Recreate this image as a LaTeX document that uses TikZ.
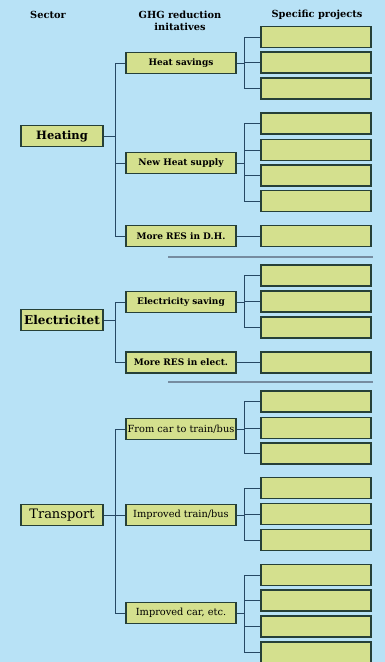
\documentclass[tikz,border=0pt]{standalone}
\usepackage{fontspec}
\setmainfont{DejaVu Serif}

\definecolor{bgblue}{RGB}{184,226,246}
\definecolor{boxfill}{RGB}{212,224,142}
\definecolor{boxline}{RGB}{38,64,56}
\definecolor{linkcol}{RGB}{38,72,100}
\definecolor{sepcol}{RGB}{118,140,160}

\begin{document}
\begin{tikzpicture}[x=1pt, y=-1pt,
  box/.style={draw=boxline, fill=boxfill, line width=1.2pt, minimum height=21pt, inner sep=0pt},
  sectorbox/.style={box, minimum width=82pt, font=\bfseries\fontsize{11.5}{13}\selectfont},
  initbox/.style={box, minimum width=110pt, font=\bfseries\fontsize{9}{10}\selectfont},
  projbox/.style={box, minimum width=110pt},
  link/.style={draw=linkcol, line width=0.9pt},
  head/.style={font=\bfseries\fontsize{9.8}{11.5}\selectfont, align=center}]

% Background
\fill[bgblue] (0,0) rectangle (385,662);
\useasboundingbox (0,0) rectangle (385,662);
\clip (0,0) rectangle (385,662);

% Headings
\node[head] (hsec) at (48,15) {Sector};
\node[head] (hghg) at (180,21) {GHG reduction\\initatives};
\node[head] (hspec) at (317,15) {Specific projects};

% Sectors
\node[sectorbox] (heat) at (62,136) {Heating};
\node[sectorbox, font=\bfseries\fontsize{12}{13}\selectfont] (elec) at (62,320) {Electricitet};
\node[sectorbox, font=\fontsize{13}{15}\selectfont] (trans) at (62,515) {Transport};

% Initiatives
\node[initbox] (hsav) at (181,63) {Heat savings};
\node[initbox] (hnew) at (181,163) {New Heat supply};
\node[initbox] (hres) at (181,236) {More RES in D.H.};
\node[initbox] (esav) at (181,302) {Electricity saving};
\node[initbox] (eres) at (181,362.5) {More RES in elect.};
\node[initbox, font=\fontsize{9.8}{11}\selectfont] (tcar) at (181,429) {From car to train/bus};
\node[initbox, font=\fontsize{9.8}{11}\selectfont] (ttrain) at (181,515) {Improved train/bus};
\node[initbox, font=\fontsize{9.8}{11}\selectfont] (tveh) at (181,613) {Improved car, etc.};

% Specific projects
\foreach \y [count=\i] in {37,62.5,88.5,123.5,150,175.5,201,236,275.5,301.5,327.5,362.5,
                           401.5,428,453.5,488,514,540,575,600.5,626.5,652.5}
  \node[projbox] (p\i) at (316,\y) {};

% Sector -> initiatives
\draw[link] (heat.east) -- ++(12,0) coordinate (heat-t);
\draw[link] (elec.east) -- ++(12,0) coordinate (elec-t);
\draw[link] (trans.east) -- ++(12,0) coordinate (trans-t);
\foreach \n in {hsav,hnew,hres} \draw[link] (\n.west) -| (heat-t);
\foreach \n in {esav,eres} \draw[link] (\n.west) -| (elec-t);
\foreach \n in {tcar,ttrain,tveh} \draw[link] (\n.west) -| (trans-t);

% Initiatives -> projects
\foreach \n/\a/\b in {hsav/1/3, hnew/4/7, esav/9/11, tcar/13/15, ttrain/16/18, tveh/19/22}{
  \draw[link] (\n.east) -- ++(8,0) coordinate (\n-b);
  \foreach \i in {\a,...,\b} \draw[link] (p\i.west) -| (\n-b);
}
\draw[link] (hres.east) -- (p8.west);
\draw[link] (eres.east) -- (p12.west);

% Separators
\draw[sepcol, line width=1.6pt] (168,257) -- (373,257);
\draw[sepcol, line width=1.6pt] (168,382) -- (373,382);

\end{tikzpicture}
\end{document}
